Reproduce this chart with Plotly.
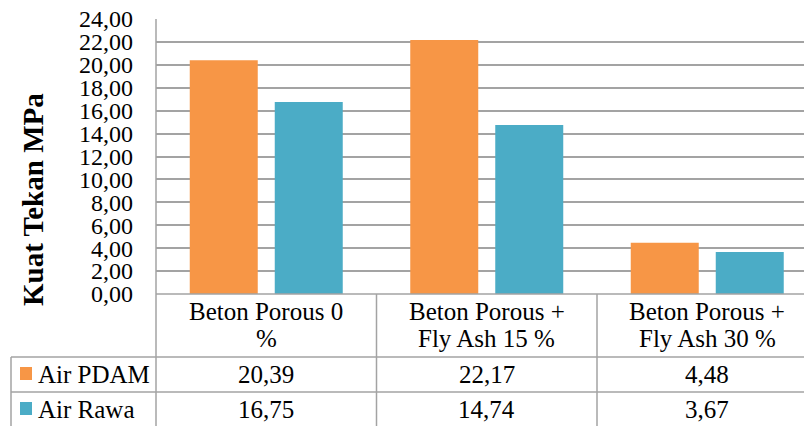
import plotly.graph_objects as go

categories = ["Beton Porous 0 %", "Beton Porous + Fly Ash 15 %", "Beton Porous + Fly Ash 30 %"]
header_lines = [["Beton Porous 0", "%"], ["Beton Porous +", "Fly Ash 15 %"], ["Beton Porous +", "Fly Ash 30 %"]]
series_names = ["Air PDAM", "Air Rawa"]
air_pdam = [20.39, 22.17, 4.48]
air_rawa = [16.75, 14.74, 3.67]
y_ticks = [0, 2, 4, 6, 8, 10, 12, 14, 16, 18, 20, 22, 24]
colors = ["#F79646", "#4BACC6"]

W, H = 804, 426
L, R, T, B = 156, 0, 19, 132
pw, ph = W - L - R, H - T - B
cat_w = 220.5
x_min = -0.5
x_max = x_min + pw / cat_w

FONT = "Liberation Serif, Times New Roman, serif"
GRID = "#a3a3a3"

def px_x(p):
    return (p - L) / pw

def px_y(p):
    return (H - B - p) / ph

def dx(v):
    return (v - x_min) / (x_max - x_min)

idx = list(range(len(categories)))
fig = go.Figure()
for name, vals, c in zip(series_names, [air_pdam, air_rawa], colors):
    fig.add_trace(go.Bar(x=idx, y=vals, name=name, marker=dict(color=c, line=dict(width=0)),
                         showlegend=False, hoverinfo="skip"))

shapes = []
line = dict(color=GRID, width=1.5)
shapes.append(dict(type="line", xref="paper", yref="paper", x0=0, x1=0, y0=1, y1=px_y(427), line=line))
shapes.append(dict(type="line", xref="paper", yref="paper", x0=0, x1=1, y0=0, y1=0, line=line))
for yp in [357, 392]:
    shapes.append(dict(type="line", xref="paper", yref="paper", x0=px_x(11), x1=1, y0=px_y(yp), y1=px_y(yp), line=line))
shapes.append(dict(type="line", xref="paper", yref="paper", x0=px_x(11), x1=px_x(11), y0=px_y(357), y1=px_y(427), line=line))
for i in idx[:-1]:
    xb = dx(i + 0.5)
    shapes.append(dict(type="line", xref="paper", yref="paper", x0=xb, x1=xb, y0=0, y1=px_y(427), line=line))
for k, c in enumerate(colors):
    yc = [373.5, 408.5][k]
    shapes.append(dict(type="rect", xref="paper", yref="paper", x0=px_x(20), x1=px_x(32),
                       y0=px_y(yc - 6.5), y1=px_y(yc + 6.5), fillcolor=c, line=dict(width=0)))

ann = []
tfont = dict(family=FONT, size=25, color="black")
for i, lines in zip(idx, header_lines):
    for j, t in enumerate(lines):
        ann.append(dict(x=i, xref="x", y=px_y(311 + 27 * j), yref="paper", text=t, showarrow=False,
                        font=tfont, xanchor="center", yanchor="middle"))
row_y = [374.5, 409]
for k, (name, vals) in enumerate(zip(series_names, [air_pdam, air_rawa])):
    ann.append(dict(x=px_x(36), xref="paper", y=px_y(row_y[k]), yref="paper", text=name, showarrow=False,
                    font=tfont, xanchor="left", yanchor="middle"))
    for i, v in zip(idx, vals):
        ann.append(dict(x=i, xref="x", y=px_y(row_y[k]), yref="paper", text=f"{v:.2f}".replace(".", ","),
                        showarrow=False, font=tfont, xanchor="center", yanchor="middle"))
ann.append(dict(x=px_x(33), xref="paper", y=px_y(200), yref="paper", text="<b>Kuat Tekan MPa</b>",
                showarrow=False, textangle=-90, font=dict(family=FONT, size=29, color="black"),
                xanchor="center", yanchor="middle"))

fig.update_layout(
    width=W, height=H,
    margin=dict(l=L, r=R, t=T, b=B, pad=0, autoexpand=False),
    paper_bgcolor="white", plot_bgcolor="white",
    separators=",.",
    barmode="group", bargap=0.229, bargroupgap=0.2,
    xaxis=dict(range=[x_min, x_max], showticklabels=False, showgrid=False, zeroline=False, showline=False,
               ticks="", automargin=False, fixedrange=True),
    yaxis=dict(range=[0, 24], tickvals=y_ticks, tickformat=".2f", showgrid=True, gridcolor=GRID, gridwidth=1.5,
               zeroline=False, showline=False, ticks="", ticklabelstandoff=22, automargin=False, fixedrange=True,
               tickfont=dict(family=FONT, size=24, color="black")),
    shapes=shapes, annotations=ann,
)
fig.write_html("out.html", config={"displayModeBar": False},
               post_script="document.body.style.margin='0';document.body.style.overflow='hidden';")
